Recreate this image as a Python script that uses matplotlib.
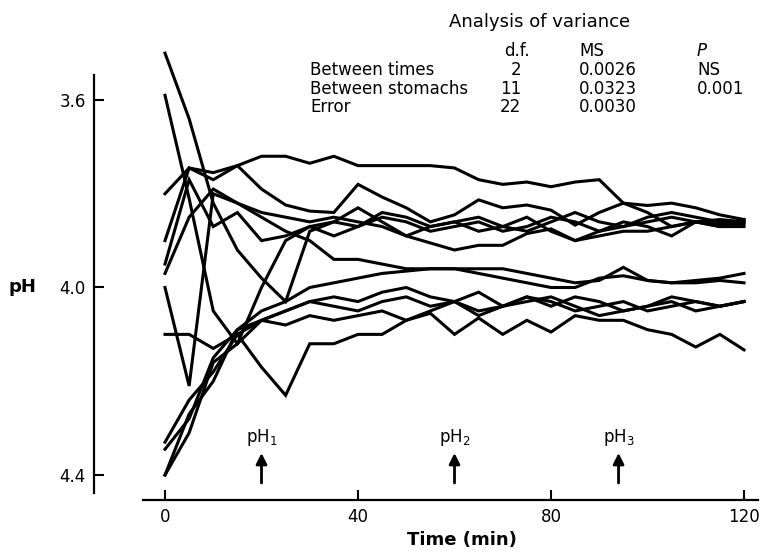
import matplotlib
matplotlib.use("Agg")
import matplotlib.pyplot as plt

# ---------------- data ----------------
times = list(range(0, 121, 5))

stomach_01 = [3.50, 3.64, 3.82, 3.92, 3.98, 4.03, 3.88, 3.86, 3.87, 3.85, 3.86, 3.88, 3.87,
              3.86, 3.88, 3.87, 3.85, 3.86, 3.88, 3.87, 3.86, 3.85, 3.86, 3.87, 3.86]
stomach_02 = [3.59, 3.81, 4.05, 4.12, 4.07, 4.05, 4.03, 4.02, 4.03, 4.01, 4.00, 4.02, 4.03,
              4.01, 4.04, 4.03, 4.02, 4.04, 4.06, 4.05, 4.04, 4.03, 4.05, 4.04, 4.03]
stomach_03 = [3.80, 3.745, 3.755, 3.74, 3.72, 3.72, 3.735, 3.72, 3.74, 3.74, 3.74, 3.74, 3.745,
              3.77, 3.78, 3.775, 3.785, 3.775, 3.77, 3.82, 3.825, 3.82, 3.83, 3.845, 3.855]
stomach_04 = [3.90, 3.745, 3.77, 3.74, 3.79, 3.824, 3.837, 3.84, 3.78, 3.807, 3.83, 3.86, 3.845,
              3.813, 3.83, 3.824, 3.835, 3.867, 3.84, 3.82, 3.84, 3.87, 3.86, 3.855, 3.86]
stomach_05 = [3.95, 3.77, 3.87, 3.84, 3.90, 3.89, 3.87, 3.86, 3.83, 3.86, 3.89, 3.87, 3.86,
              3.88, 3.87, 3.85, 3.88, 3.90, 3.88, 3.86, 3.87, 3.89, 3.86, 3.87, 3.87]
stomach_06 = [3.97, 3.85, 3.79, 3.82, 3.84, 3.85, 3.86, 3.85, 3.86, 3.87, 3.89, 3.905, 3.92,
              3.91, 3.91, 3.885, 3.875, 3.90, 3.89, 3.88, 3.88, 3.87, 3.86, 3.865, 3.855]
stomach_07 = [4.00, 4.21, 3.80, 3.82, 3.85, 3.88, 3.90, 3.94, 3.94, 3.95, 3.96, 3.96, 3.96,
              3.96, 3.96, 3.97, 3.98, 3.99, 3.985, 3.957, 3.985, 3.99, 3.985, 3.98, 3.97]
stomach_08 = [4.10, 4.10, 4.13, 4.10, 4.17, 4.23, 4.12, 4.12, 4.10, 4.10, 4.07, 4.055, 4.10,
              4.065, 4.10, 4.07, 4.095, 4.06, 4.07, 4.07, 4.09, 4.10, 4.127, 4.10, 4.133]
stomach_09 = [4.33, 4.24, 4.18, 4.10, 4.07, 4.05, 4.03, 4.04, 4.05, 4.03, 4.02, 4.04, 4.03,
              4.05, 4.04, 4.02, 4.03, 4.05, 4.04, 4.03, 4.05, 4.04, 4.03, 4.04, 4.03]
stomach_10 = [4.345, 4.28, 4.15, 4.09, 4.05, 4.03, 4.00, 3.99, 3.98, 3.97, 3.965, 3.96, 3.96,
              3.97, 3.98, 3.99, 4.00, 4.00, 3.98, 3.975, 3.985, 3.99, 3.99, 3.985, 3.99]
stomach_11 = [4.40, 4.27, 4.20, 4.09, 4.07, 4.08, 4.06, 4.07, 4.06, 4.05, 4.07, 4.05, 4.03,
              4.06, 4.04, 4.02, 4.04, 4.02, 4.03, 4.05, 4.04, 4.02, 4.03, 4.04, 4.03]
stomach_12 = [4.40, 4.31, 4.16, 4.12, 4.00, 3.90, 3.87, 3.89, 3.87, 3.84, 3.85, 3.87, 3.86,
              3.85, 3.87, 3.88, 3.86, 3.84, 3.86, 3.87, 3.85, 3.84, 3.85, 3.86, 3.865]

stomachs = [stomach_01, stomach_02, stomach_03, stomach_04, stomach_05, stomach_06,
            stomach_07, stomach_08, stomach_09, stomach_10, stomach_11, stomach_12]

x_ticks = [0, 40, 80, 120]
y_ticks = [3.6, 4.0, 4.4]
y_ticklabels = ["3.6", "4.0", "4.4"]

sample_times = [20, 60, 94]
sample_labels = ["pH$_1$", "pH$_2$", "pH$_3$"]

anova_sources = ["Between times", "Between stomachs", "Error"]
anova_df = ["2", "11", "22"]
anova_ms = ["0.0026", "0.0323", "0.0030"]
anova_p = ["NS", "0.001", ""]

# ---------------- figure ----------------
W, H = 761, 552
fig = plt.figure(figsize=(W / 100, H / 100), dpi=100)
plt.rcParams["font.family"] = ["DejaVu Sans"]

px_per_min = 579 / 120
px_per_ph = 375 / 0.8
ax_left, ax_right, ax_top, ax_bot = 143, 758, 40, 500
ax = fig.add_axes([ax_left / W, 1 - ax_bot / H, (ax_right - ax_left) / W, (ax_bot - ax_top) / H])
ax.set_xlim(-(165 - ax_left) / px_per_min, 120 + (ax_right - 744) / px_per_min)
ax.set_ylim(4.4 + (ax_bot - 475) / px_per_ph, 3.6 - (100 - ax_top) / px_per_ph)

for s in stomachs:
    ax.plot(times, s, color="black", lw=2.2, solid_joinstyle="miter")

for sp in ["top", "right"]:
    ax.spines[sp].set_visible(False)
ax.spines["left"].set_position(("outward", (ax_left - 94) * 0.72))
ax.spines["left"].set_bounds(3.6 - 25 / px_per_ph, 4.4 + 18 / px_per_ph)
for sp in ["left", "bottom"]:
    ax.spines[sp].set_linewidth(1.6)

ax.set_xticks(x_ticks)
ax.set_yticks(y_ticks)
ax.set_yticklabels(y_ticklabels)
ax.tick_params(direction="in", length=7, width=1.5, labelsize=12, pad=6)

fig.text(22 / W, 1 - 287 / H, "pH", fontsize=13, fontweight="bold", ha="center", va="center")
fig.text(462 / W, 1 - 540 / H, "Time (min)", fontsize=13, fontweight="bold", ha="center", va="center")

for t, lab in zip(sample_times, sample_labels):
    ax.annotate("", xy=(t, 4.4 - 22 / px_per_ph), xytext=(t, 4.4 + 8 / px_per_ph),
                arrowprops=dict(arrowstyle="-|>", color="black", lw=2, mutation_scale=16,
                                shrinkA=0, shrinkB=0))
    ax.text(t, 4.4 - 37 / px_per_ph, lab, fontsize=12, ha="center", va="center")

# ANOVA table
fig.text(540 / W, 1 - 22 / H, "Analysis of variance", fontsize=13, ha="center", va="center")
hy = 51
fig.text(517 / W, 1 - hy / H, "d.f.", fontsize=12, ha="center", va="center")
fig.text(579 / W, 1 - hy / H, "MS", fontsize=12, ha="left", va="center")
fig.text(697 / W, 1 - hy / H, "P", fontsize=12, ha="left", va="center", style="italic")
for i, (src, d, ms, p) in enumerate(zip(anova_sources, anova_df, anova_ms, anova_p)):
    y = 1 - (70 + 18.5 * i) / H
    fig.text(310 / W, y, src, fontsize=12, ha="left", va="center")
    fig.text(521 / W, y, d, fontsize=12, ha="right", va="center")
    fig.text(579 / W, y, ms, fontsize=12, ha="left", va="center")
    fig.text(697 / W, y, p, fontsize=12, ha="left", va="center")

fig.savefig("out.png", dpi=100)
